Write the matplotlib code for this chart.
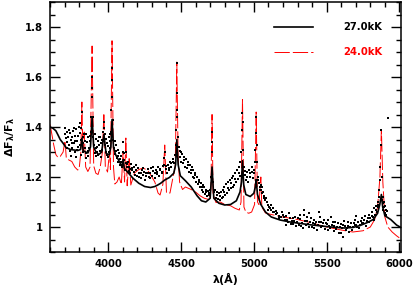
import numpy as np
import matplotlib
matplotlib.use("Agg")
import matplotlib.pyplot as plt
from matplotlib.ticker import MultipleLocator

# model 27.0kK (black solid)
hot_wave = [3600, 3620, 3640, 3655, 3670, 3690, 3710, 3740, 3790, 3810, 3819, 3828,
            3860, 3878, 3889, 3900, 3915, 3935, 3955, 3970, 3985, 4005, 4018, 4026,
            4036, 4050, 4080, 4095, 4102, 4110, 4140, 4170, 4210, 4250, 4290, 4320,
            4340, 4360, 4388, 4420, 4450, 4463, 4471, 4480, 4495, 4530, 4570, 4610,
            4640, 4670, 4700, 4713, 4725, 4760, 4800, 4840, 4880, 4905, 4915, 4922,
            4930, 4945, 4975, 5000, 5010, 5016, 5025, 5048, 5080, 5120, 5180, 5250,
            5320, 5400, 5480, 5550, 5620, 5680, 5730, 5780, 5820, 5850, 5865, 5876,
            5885, 5900, 5940, 5980, 6010]
hot_flux = [1.400, 1.395, 1.385, 1.368, 1.350, 1.335, 1.318, 1.310, 1.306, 1.310, 1.355, 1.305,
            1.296, 1.320, 1.440, 1.320, 1.300, 1.290, 1.300, 1.370, 1.295, 1.288, 1.320, 1.430,
            1.320, 1.290, 1.258, 1.240, 1.270, 1.235, 1.215, 1.195, 1.175, 1.162, 1.158, 1.162,
            1.168, 1.175, 1.188, 1.198, 1.215, 1.250, 1.350, 1.250, 1.205, 1.185, 1.160, 1.125,
            1.105, 1.100, 1.115, 1.240, 1.115, 1.095, 1.088, 1.090, 1.105, 1.140, 1.180, 1.265,
            1.170, 1.130, 1.122, 1.135, 1.160, 1.190, 1.130, 1.090, 1.060, 1.040, 1.028, 1.020,
            1.014, 1.008, 1.003, 0.999, 0.996, 0.998, 1.006, 1.018, 1.030, 1.055, 1.090, 1.130,
            1.080, 1.045, 1.030, 1.008, 0.998]

# model 24.0kK (red dashed)
cool_wave = [3600, 3610, 3625, 3640, 3655, 3670, 3690, 3703, 3712, 3730, 3750, 3770,
             3790, 3800, 3812, 3819, 3826, 3835, 3845, 3860, 3875, 3889, 3900, 3915,
             3930, 3945, 3960, 3970, 3980, 3995, 4009, 4015, 4026, 4036, 4045, 4060,
             4075, 4090, 4102, 4112, 4121, 4130, 4144, 4155, 4180, 4210, 4240, 4273,
             4300, 4320, 4342, 4356, 4375, 4388, 4400, 4424, 4445, 4460, 4471, 4480,
             4490, 4510, 4530, 4550, 4570, 4600, 4630, 4660, 4690, 4705, 4713, 4720,
             4740, 4770, 4800, 4840, 4870, 4900, 4912, 4922, 4932, 4945, 4965, 4985,
             5005, 5016, 5025, 5035, 5048, 5055, 5080, 5120, 5200, 5300, 5400, 5500,
             5600, 5680, 5750, 5800, 5830, 5850, 5866, 5876, 5886, 5900, 5920, 5950,
             5980, 6010]
cool_flux = [1.410, 1.380, 1.330, 1.290, 1.278, 1.282, 1.300, 1.345, 1.275, 1.268, 1.262, 1.240,
             1.228, 1.232, 1.300, 1.500, 1.300, 1.380, 1.240, 1.222, 1.240, 1.724, 1.245, 1.215,
             1.210, 1.240, 1.300, 1.456, 1.240, 1.220, 1.300, 1.230, 1.745, 1.240, 1.172, 1.180,
             1.200, 1.170, 1.300, 1.180, 1.356, 1.165, 1.280, 1.168, 1.216, 1.230, 1.236, 1.225,
             1.200, 1.180, 1.136, 1.128, 1.170, 1.328, 1.136, 1.136, 1.200, 1.240, 1.660, 1.280,
             1.180, 1.150, 1.160, 1.155, 1.150, 1.140, 1.125, 1.115, 1.110, 1.150, 1.450, 1.130,
             1.098, 1.100, 1.090, 1.085, 1.075, 1.068, 1.100, 1.510, 1.080, 1.060, 1.055, 1.060,
             1.090, 1.460, 1.100, 1.090, 1.200, 1.080, 1.056, 1.050, 1.040, 1.030, 1.016, 1.000,
             0.988, 0.980, 0.985, 1.000, 1.030, 1.080, 1.200, 1.390, 1.180, 1.040, 1.000, 0.980,
             0.965, 0.952]

# observed points
obs_wave = [3702, 3708, 3714, 3720, 3726, 3731, 3737, 3742, 3748, 3753, 3759, 3764,
            3770, 3775, 3781, 3786, 3792, 3797, 3803, 3808, 3813, 3819, 3825, 3830,
            3836, 3841, 3847, 3852, 3858, 3863, 3869, 3875, 3880, 3884, 3887, 3889,
            3891, 3894, 3898, 3745, 3778, 3810, 3845,
            3705, 3717, 3729, 3740, 3751, 3762, 3773, 3784, 3795, 3806, 3816, 3828,
            3839, 3850, 3861, 3872,
            3903, 3908, 3913, 3918, 3923, 3928, 3933, 3938, 3943, 3948, 3953, 3958,
            3963, 3968, 3972, 3977, 3982, 3987, 3992, 3997, 4002, 4007, 4012, 4017,
            4021, 4024, 4026, 4028, 4031, 4035,
            3906, 3916, 3926, 3936, 3946, 3956, 3966, 3980, 3990, 4000, 4010, 4015,
            4040, 4046, 4052, 4058, 4064, 4070, 4076, 4082, 4088, 4094, 4100, 4104,
            4110, 4116, 4121, 4127, 4133, 4139, 4145, 4151,
            4043, 4055, 4067, 4079, 4091, 4107, 4119, 4130, 4142, 4148,
            4158, 4166, 4174, 4182, 4190, 4198, 4206, 4214, 4222, 4230, 4238, 4246,
            4254, 4262, 4270, 4278, 4286, 4294, 4302, 4310, 4318, 4326, 4334, 4342,
            4350, 4358, 4366, 4374, 4381, 4388, 4394, 4402, 4410, 4418, 4426, 4434,
            4442, 4450, 4456, 4462, 4466, 4469, 4471, 4472, 4475, 4478,
            4162, 4178, 4194, 4210, 4226, 4242, 4258, 4274, 4290, 4306, 4322, 4338,
            4354, 4370, 4384, 4398, 4414, 4430, 4446,
            4485, 4497, 4510, 4522, 4535, 4548, 4560, 4572, 4585, 4598, 4610, 4622,
            4635, 4648, 4660, 4672, 4685, 4698,
            4490, 4503, 4516, 4529, 4542, 4554, 4566, 4579, 4591, 4604, 4616, 4629,
            4641, 4654, 4666, 4679, 4691,
            4492, 4518, 4545, 4570, 4595, 4620, 4645, 4670, 4695,
            4706, 4710, 4713, 4715, 4719, 4724,
            4735, 4748, 4760, 4772, 4785, 4798, 4810, 4822, 4835, 4848, 4860, 4872,
            4885, 4898, 4908,
            4741, 4754, 4766, 4779, 4791, 4804, 4816, 4829, 4841, 4854, 4866, 4879,
            4891, 4903,
            4745, 4770, 4795, 4820, 4845, 4870, 4895,
            4914, 4918, 4921, 4923, 4926, 4930,
            4936, 4944, 4952, 4960, 4968, 4976, 4984, 4992, 5000, 5006, 5010, 5014,
            5016, 5019, 5022,
            4940, 4956, 4972, 4988, 5003,
            5028, 5034, 5040, 5046, 5052, 5058, 5065, 5072, 5080, 5088, 5096, 5104,
            5112, 5120, 5130, 5140, 5150, 5162, 5175, 5188, 5200,
            5031, 5043, 5055, 5068, 5084, 5100, 5116, 5135, 5155, 5170, 5195,
            5212, 5224, 5236, 5248, 5260, 5272, 5284, 5296, 5308, 5320, 5332, 5344,
            5356, 5368, 5380, 5392, 5404, 5416, 5428, 5440, 5452, 5464, 5476, 5488,
            5500, 5512, 5524, 5536, 5548, 5560, 5572, 5584, 5596, 5608, 5620, 5632,
            5644, 5656, 5668, 5680, 5692, 5704, 5716, 5728, 5740, 5752, 5764, 5776,
            5788, 5800,
            5218, 5242, 5266, 5290, 5314, 5338, 5362, 5386, 5410, 5434, 5458, 5482,
            5506, 5530, 5554, 5578, 5602, 5626, 5650, 5674, 5698, 5722, 5746, 5770,
            5794, 5345, 5380, 5450, 5700, 5610,
            5206, 5230, 5254, 5278, 5302, 5326, 5350, 5374, 5398, 5422, 5446, 5470,
            5494, 5518, 5542, 5566, 5590, 5614, 5638, 5662, 5686, 5710, 5734, 5758,
            5782,
            5810, 5818, 5825, 5832, 5838, 5844, 5850, 5856, 5860, 5864, 5868, 5872,
            5875, 5878, 5882, 5886, 5890, 5895, 5900, 5905, 5910, 5922,
            5814, 5828, 5841, 5853, 5862, 5884, 5893, 5903, 5913]
obs_flux = [1.372, 1.355, 1.380, 1.340, 1.362, 1.330, 1.375, 1.350, 1.318, 1.360, 1.385, 1.338,
            1.300, 1.366, 1.392, 1.345, 1.322, 1.402, 1.376, 1.418, 1.350, 1.460, 1.335, 1.300,
            1.372, 1.318, 1.296, 1.340, 1.305, 1.362, 1.318, 1.345, 1.380, 1.440, 1.520, 1.600,
            1.556, 1.440, 1.360, 1.285, 1.280, 1.290, 1.278,
            1.395, 1.318, 1.390, 1.305, 1.338, 1.395, 1.345, 1.310, 1.365, 1.330, 1.395, 1.362,
            1.345, 1.372, 1.285, 1.365,
            1.330, 1.298, 1.352, 1.285, 1.320, 1.345, 1.290, 1.362, 1.305, 1.335, 1.280, 1.350,
            1.380, 1.420, 1.395, 1.330, 1.300, 1.352, 1.290, 1.325, 1.360, 1.300, 1.345, 1.380,
            1.468, 1.520, 1.636, 1.588, 1.430, 1.350,
            1.372, 1.315, 1.300, 1.330, 1.362, 1.310, 1.345, 1.372, 1.338, 1.282, 1.372, 1.318,
            1.318, 1.292, 1.330, 1.275, 1.310, 1.260, 1.295, 1.248, 1.285, 1.240, 1.300, 1.340,
            1.268, 1.230, 1.300, 1.252, 1.222, 1.262, 1.240, 1.215,
            1.345, 1.305, 1.285, 1.272, 1.262, 1.295, 1.255, 1.240, 1.225, 1.232,
            1.252, 1.228, 1.242, 1.210, 1.230, 1.205, 1.238, 1.215, 1.195, 1.228, 1.208, 1.222,
            1.190, 1.215, 1.232, 1.200, 1.218, 1.236, 1.205, 1.225, 1.198, 1.230, 1.212, 1.242,
            1.205, 1.228, 1.215, 1.245, 1.275, 1.300, 1.232, 1.218, 1.250, 1.228, 1.262, 1.240,
            1.272, 1.255, 1.290, 1.330, 1.388, 1.440, 1.536, 1.656, 1.470, 1.360,
            1.238, 1.222, 1.248, 1.200, 1.215, 1.235, 1.205, 1.218, 1.198, 1.240, 1.215, 1.222,
            1.232, 1.222, 1.250, 1.245, 1.238, 1.255, 1.262,
            1.320, 1.300, 1.292, 1.280, 1.272, 1.262, 1.250, 1.240, 1.228, 1.215, 1.200, 1.190,
            1.178, 1.168, 1.160, 1.150, 1.145, 1.150,
            1.280, 1.262, 1.255, 1.240, 1.235, 1.222, 1.215, 1.200, 1.195, 1.180, 1.172, 1.160,
            1.150, 1.140, 1.132, 1.125, 1.128,
            1.305, 1.270, 1.248, 1.228, 1.208, 1.180, 1.160, 1.140, 1.135,
            1.200, 1.300, 1.380, 1.340, 1.180, 1.140,
            1.150, 1.140, 1.135, 1.140, 1.150, 1.160, 1.172, 1.180, 1.190, 1.198, 1.205, 1.215,
            1.228, 1.240, 1.260,
            1.118, 1.112, 1.108, 1.115, 1.120, 1.130, 1.138, 1.148, 1.155, 1.160, 1.170, 1.180,
            1.192, 1.205,
            1.128, 1.125, 1.140, 1.158, 1.178, 1.192, 1.215,
            1.300, 1.388, 1.456, 1.420, 1.308, 1.240,
            1.210, 1.190, 1.220, 1.180, 1.230, 1.200, 1.240, 1.195, 1.230, 1.260, 1.308, 1.376,
            1.440, 1.330, 1.260,
            1.225, 1.200, 1.215, 1.220, 1.215,
            1.190, 1.176, 1.160, 1.168, 1.150, 1.136, 1.140, 1.118, 1.108, 1.100, 1.090, 1.082,
            1.078, 1.068, 1.062, 1.060, 1.052, 1.056, 1.045, 1.042, 1.048,
            1.200, 1.150, 1.160, 1.125, 1.115, 1.070, 1.090, 1.075, 1.065, 1.035, 1.060,
            1.030, 1.045, 1.020, 1.038, 1.025, 1.012, 1.040, 1.022, 1.008, 1.032, 1.018, 1.050,
            1.010, 1.026, 1.002, 1.035, 1.015, 0.998, 1.022, 1.008, 1.040, 1.000, 1.018, 0.992,
            1.012, 1.028, 0.995, 1.008, 0.985, 1.020, 1.000, 0.978, 1.012, 0.995, 1.025, 0.988,
            1.005, 0.982, 1.015, 1.000, 1.030, 1.008, 1.022, 1.010, 1.035, 1.018, 1.045, 1.025,
            1.050, 1.035,
            1.010, 1.055, 1.035, 1.005, 1.048, 0.998, 1.040, 1.020, 1.030, 0.990, 1.020, 1.030,
            0.990, 1.040, 1.005, 1.015, 0.975, 1.005, 1.020, 0.990, 1.010, 0.995, 1.015, 1.005,
            1.020, 1.068, 1.055, 1.060, 1.045, 0.960,
            1.040, 1.028, 1.012, 1.025, 1.035, 1.005, 1.025, 1.012, 1.000, 1.012, 1.022, 1.005,
            1.015, 1.005, 1.020, 0.992, 1.000, 1.010, 0.998, 1.000, 1.015, 1.000, 1.025, 1.030,
            1.038,
            1.060, 1.040, 1.075, 1.050, 1.085, 1.060, 1.100, 1.080, 1.120, 1.188, 1.240, 1.330,
            1.388, 1.200, 1.110, 1.096, 1.068, 1.080, 1.056, 1.070, 1.050, 1.436,
            1.045, 1.030, 1.070, 1.090, 1.150, 1.120, 1.100, 1.085, 1.065]

legend_labels = ["27.0kK", "24.0kK"]

plt.rcParams['font.family'] = ['DejaVu Sans']
plt.rcParams['mathtext.fontset'] = 'dejavusans'
plt.rcParams['mathtext.default'] = 'bf'
plt.rcParams['lines.scale_dashes'] = False
red_dash = (11, 2.2)

fig = plt.figure(figsize=(4.15, 2.88), dpi=100)
ax = fig.add_axes([0.1205, 0.125, 0.8455, 0.868])

ax.scatter(obs_wave, obs_flux, s=2.2, marker='s', color='black', linewidths=0, zorder=3)
ax.plot(hot_wave, hot_flux, color='black', lw=1.2, zorder=2)
ax.plot(cool_wave, cool_flux, color='red', lw=0.7, dashes=red_dash, zorder=1)

ax.set_xlim(3600, 6010)
ax.set_ylim(0.9, 1.9)
ax.xaxis.set_major_locator(MultipleLocator(500))
ax.xaxis.set_minor_locator(MultipleLocator(100))
ax.yaxis.set_minor_locator(MultipleLocator(0.05))
ax.set_yticks([1.0, 1.2, 1.4, 1.6, 1.8])
ax.set_yticklabels(["1", "1.2", "1.4", "1.6", "1.8"])
ax.tick_params(which='both', direction='in', top=True, right=True, width=1.0)
ax.tick_params(which='major', length=7, labelsize=7.2, pad=5)
ax.tick_params(which='minor', length=3.5)
for lab in ax.get_xticklabels() + ax.get_yticklabels():
    lab.set_fontweight('bold')
for sp in ax.spines.values():
    sp.set_linewidth(1.1)

ax.set_xlabel("λ(Å)", fontsize=8, fontweight='bold')
ax.xaxis.set_label_coords(0.5, -0.082)
ax.set_ylabel(r"$\Delta F_{\lambda}/F_{\lambda}$", fontsize=8)
ax.yaxis.set_label_coords(-0.095, 0.46)

# legend drawn by hand
ax.plot([0.638, 0.749], [0.90, 0.90], transform=ax.transAxes, color='black', lw=1.2)
ax.plot([0.638, 0.749], [0.80, 0.80], transform=ax.transAxes, color='red', lw=0.7,
        dashes=red_dash)
ax.text(0.835, 0.90, legend_labels[0], transform=ax.transAxes, fontsize=7.2,
        fontweight='bold', color='black', va='center', ha='left')
ax.text(0.835, 0.80, legend_labels[1], transform=ax.transAxes, fontsize=7.2,
        fontweight='bold', color='red', va='center', ha='left')

fig.savefig("out.png", dpi=100)
